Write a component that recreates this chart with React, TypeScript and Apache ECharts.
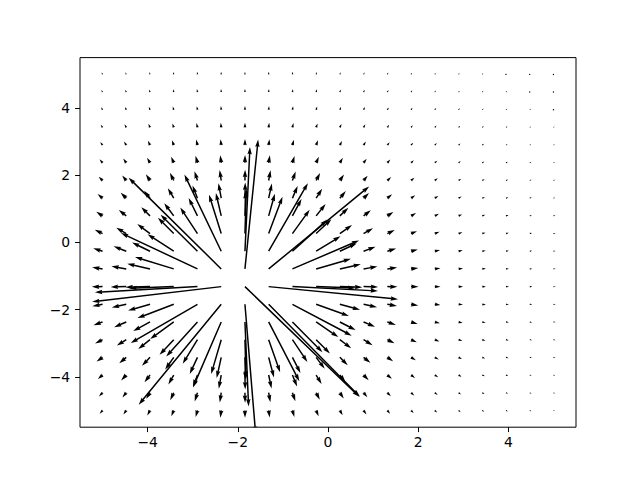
import React, { useEffect, useRef } from 'react';
import * as echarts from 'echarts';

// grid positions of the arrow tails
const XS = [-5, -4.474, -3.947, -3.421, -2.895, -2.368, -1.842, -1.316, -0.789, -0.263, 0.263, 0.789, 1.316, 1.842, 2.368, 2.895, 3.421, 3.947, 4.474, 5];
const YS = [-5, -4.474, -3.947, -3.421, -2.895, -2.368, -1.842, -1.316, -0.789, -0.263, 0.263, 0.789, 1.316, 1.842, 2.368, 2.895, 3.421, 3.947, 4.474, 5];

// vector components, one row per YS value, one column per XS value
const U = [
  [-0.0270, -0.0275, -0.0265, -0.0232, -0.0173, -0.0089, 0.0009, 0.0106, 0.0186, 0.0240, 0.0268, 0.0275, 0.0268, 0.0253, 0.0234, 0.0214, 0.0194, 0.0175, 0.0158, 0.0143],
  [-0.0348, -0.0368, -0.0370, -0.0339, -0.0263, -0.0139, 0.0014, 0.0165, 0.0281, 0.0348, 0.0372, 0.0366, 0.0343, 0.0312, 0.0281, 0.0250, 0.0222, 0.0197, 0.0176, 0.0157],
  [-0.0448, -0.0499, -0.0531, -0.0518, -0.0426, -0.0235, 0.0025, 0.0277, 0.0450, 0.0525, 0.0527, 0.0490, 0.0438, 0.0384, 0.0334, 0.0289, 0.0252, 0.0220, 0.0193, 0.0170],
  [-0.0573, -0.0676, -0.0775, -0.0824, -0.0742, -0.0441, 0.0048, 0.0513, 0.0772, 0.0822, 0.0759, 0.0657, 0.0555, 0.0465, 0.0391, 0.0331, 0.0282, 0.0242, 0.0210, 0.0183],
  [-0.0717, -0.0904, -0.1134, -0.1363, -0.1422, -0.0967, 0.0110, 0.1103, 0.1438, 0.1326, 0.1090, 0.0867, 0.0688, 0.0552, 0.0449, 0.0370, 0.0310, 0.0262, 0.0224, 0.0194],
  [-0.0864, -0.1163, -0.1613, -0.2268, -0.3002, -0.2719, 0.0352, 0.2953, 0.2889, 0.2133, 0.1516, 0.1099, 0.0821, 0.0633, 0.0500, 0.0404, 0.0333, 0.0278, 0.0236, 0.0203],
  [-0.0982, -0.1390, -0.2106, -0.3483, -0.6415, -0.7934, 0.1027, 0.8778, 0.5701, 0.3154, 0.1940, 0.1300, 0.0927, 0.0693, 0.0537, 0.0427, 0.0348, 0.0289, 0.0244, 0.0208],
  [-0.1033, -0.1497, -0.2361, -0.4258, -0.9856, -1.2414, 1.1000, 1.2441, 0.8220, 0.3771, 0.2155, 0.1393, 0.0973, 0.0718, 0.0551, 0.0437, 0.0354, 0.0294, 0.0247, 0.0211],
  [-0.0999, -0.1426, -0.2189, -0.3725, -0.7351, -0.8903, 0.1267, 0.9663, 0.6413, 0.3348, 0.2012, 0.1331, 0.0942, 0.0701, 0.0542, 0.0431, 0.0350, 0.0291, 0.0245, 0.0209],
  [-0.0893, -0.1216, -0.1722, -0.2511, -0.3543, -0.3536, 0.0483, 0.3770, 0.3360, 0.2342, 0.1612, 0.1147, 0.0847, 0.0647, 0.0509, 0.0410, 0.0337, 0.0281, 0.0238, 0.0204],
  [-0.0749, -0.0958, -0.1227, -0.1520, -0.1654, -0.1175, 0.0136, 0.1331, 0.1658, 0.1470, 0.1174, 0.0915, 0.0717, 0.0570, 0.0460, 0.0378, 0.0315, 0.0266, 0.0227, 0.0196],
  [-0.0602, -0.0720, -0.0840, -0.0915, -0.0846, -0.0513, 0.0056, 0.0596, 0.0875, 0.0909, 0.0820, 0.0698, 0.0582, 0.0484, 0.0404, 0.0339, 0.0288, 0.0246, 0.0213, 0.0185],
  [-0.0472, -0.0532, -0.0574, -0.0569, -0.0475, -0.0266, 0.0028, 0.0312, 0.0501, 0.0575, 0.0569, 0.0522, 0.0461, 0.0400, 0.0345, 0.0298, 0.0258, 0.0225, 0.0197, 0.0173],
  [-0.0367, -0.0393, -0.0399, -0.0370, -0.0290, -0.0155, 0.0016, 0.0183, 0.0309, 0.0379, 0.0400, 0.0389, 0.0361, 0.0327, 0.0291, 0.0258, 0.0228, 0.0202, 0.0179, 0.0160],
  [-0.0285, -0.0292, -0.0284, -0.0251, -0.0188, -0.0098, 0.0010, 0.0116, 0.0202, 0.0259, 0.0287, 0.0292, 0.0282, 0.0265, 0.0243, 0.0221, 0.0200, 0.0180, 0.0162, 0.0146],
  [-0.0222, -0.0221, -0.0206, -0.0176, -0.0129, -0.0065, 0.0007, 0.0078, 0.0139, 0.0183, 0.0210, 0.0222, 0.0222, 0.0214, 0.0202, 0.0188, 0.0173, 0.0159, 0.0145, 0.0132],
  [-0.0175, -0.0169, -0.0154, -0.0128, -0.0092, -0.0046, 0.0005, 0.0055, 0.0099, 0.0134, 0.0157, 0.0171, 0.0176, 0.0174, 0.0168, 0.0159, 0.0150, 0.0139, 0.0129, 0.0119],
  [-0.0139, -0.0132, -0.0117, -0.0096, -0.0067, -0.0033, 0.0003, 0.0040, 0.0073, 0.0100, 0.0120, 0.0133, 0.0140, 0.0142, 0.0140, 0.0135, 0.0129, 0.0122, 0.0115, 0.0107],
  [-0.0112, -0.0104, -0.0091, -0.0073, -0.0051, -0.0025, 0.0003, 0.0030, 0.0055, 0.0077, 0.0094, 0.0106, 0.0113, 0.0116, 0.0117, 0.0115, 0.0111, 0.0107, 0.0101, 0.0096],
  [-0.0091, -0.0083, -0.0072, -0.0057, -0.0039, -0.0019, 0.0002, 0.0023, 0.0043, 0.0060, 0.0074, 0.0085, 0.0092, 0.0096, 0.0098, 0.0098, 0.0096, 0.0093, 0.0090, 0.0085],
];
const V = [
  [-0.0325, -0.0398, -0.0481, -0.0567, -0.0644, -0.0698, -0.0715, -0.0690, -0.0631, -0.0551, -0.0465, -0.0384, -0.0313, -0.0254, -0.0205, -0.0167, -0.0136, -0.0112, -0.0093, -0.0078],
  [-0.0359, -0.0458, -0.0579, -0.0712, -0.0841, -0.0937, -0.0968, -0.0923, -0.0820, -0.0687, -0.0555, -0.0439, -0.0344, -0.0269, -0.0212, -0.0168, -0.0134, -0.0109, -0.0089, -0.0073],
  [-0.0387, -0.0519, -0.0694, -0.0908, -0.1138, -0.1322, -0.1384, -0.1295, -0.1097, -0.0867, -0.0658, -0.0492, -0.0367, -0.0276, -0.0211, -0.0163, -0.0127, -0.0101, -0.0081, -0.0066],
  [-0.0398, -0.0565, -0.0814, -0.1164, -0.1596, -0.1994, -0.2140, -0.1933, -0.1514, -0.1092, -0.0762, -0.0530, -0.0374, -0.0269, -0.0198, -0.0149, -0.0115, -0.0090, -0.0071, -0.0057],
  [-0.0377, -0.0572, -0.0901, -0.1455, -0.2313, -0.3308, -0.3736, -0.3142, -0.2135, -0.1333, -0.0828, -0.0529, -0.0351, -0.0242, -0.0172, -0.0126, -0.0095, -0.0073, -0.0058, -0.0046],
  [-0.0308, -0.0498, -0.0869, -0.1641, -0.3310, -0.6303, -0.8119, -0.5701, -0.2907, -0.1453, -0.0780, -0.0455, -0.0284, -0.0188, -0.0130, -0.0094, -0.0069, -0.0053, -0.0041, -0.0033],
  [-0.0184, -0.0313, -0.0596, -0.1324, -0.3715, -0.9660, -1.2457, -0.8900, -0.3014, -0.1128, -0.0525, -0.0282, -0.0168, -0.0108, -0.0073, -0.0052, -0.0038, -0.0029, -0.0022, -0.0018],
  [-0.0019, -0.0032, -0.0064, -0.0156, -0.0549, -0.1454, -1.0600, -0.1214, -0.0418, -0.0130, -0.0056, -0.0029, -0.0017, -0.0011, -0.0007, -0.0005, -0.0004, -0.0003, -0.0002, -0.0002],
  [0.0151, 0.0260, 0.0501, 0.1146, 0.3445, 0.8773, 1.2437, 0.7929, 0.2743, 0.0969, 0.0440, 0.0234, 0.0138, 0.0088, 0.0060, 0.0042, 0.0031, 0.0023, 0.0018, 0.0014],
  [0.0286, 0.0469, 0.0835, 0.1635, 0.3514, 0.7376, 1.0026, 0.6548, 0.3043, 0.1435, 0.0747, 0.0427, 0.0263, 0.0173, 0.0119, 0.0085, 0.0063, 0.0048, 0.0037, 0.0030],
  [0.0367, 0.0564, 0.0908, 0.1512, 0.2507, 0.3744, 0.4304, 0.3532, 0.2294, 0.1376, 0.0830, 0.0520, 0.0341, 0.0233, 0.0165, 0.0120, 0.0090, 0.0069, 0.0054, 0.0043],
  [0.0397, 0.0571, 0.0837, 0.1225, 0.1724, 0.2200, 0.2381, 0.2127, 0.1628, 0.1144, 0.0780, 0.0534, 0.0372, 0.0266, 0.0194, 0.0145, 0.0111, 0.0087, 0.0069, 0.0055],
  [0.0391, 0.0530, 0.0719, 0.0957, 0.1218, 0.1432, 0.1506, 0.1401, 0.1172, 0.0911, 0.0681, 0.0502, 0.0370, 0.0276, 0.0209, 0.0160, 0.0125, 0.0099, 0.0080, 0.0065],
  [0.0366, 0.0472, 0.0602, 0.0749, 0.0895, 0.1003, 0.1039, 0.0988, 0.0870, 0.0722, 0.0576, 0.0450, 0.0349, 0.0271, 0.0212, 0.0167, 0.0133, 0.0107, 0.0087, 0.0072],
  [0.0333, 0.0411, 0.0500, 0.0594, 0.0680, 0.0740, 0.0760, 0.0732, 0.0666, 0.0577, 0.0483, 0.0395, 0.0320, 0.0257, 0.0207, 0.0168, 0.0136, 0.0112, 0.0092, 0.0077],
  [0.0297, 0.0355, 0.0417, 0.0479, 0.0532, 0.0568, 0.0579, 0.0563, 0.0523, 0.0468, 0.0406, 0.0344, 0.0288, 0.0239, 0.0197, 0.0163, 0.0135, 0.0113, 0.0095, 0.0080],
  [0.0264, 0.0306, 0.0350, 0.0392, 0.0426, 0.0449, 0.0456, 0.0446, 0.0421, 0.0385, 0.0342, 0.0298, 0.0257, 0.0218, 0.0185, 0.0156, 0.0132, 0.0112, 0.0095, 0.0081],
  [0.0233, 0.0265, 0.0297, 0.0325, 0.0349, 0.0364, 0.0369, 0.0362, 0.0345, 0.0321, 0.0291, 0.0259, 0.0228, 0.0198, 0.0171, 0.0147, 0.0127, 0.0109, 0.0094, 0.0081],
  [0.0206, 0.0231, 0.0253, 0.0274, 0.0291, 0.0301, 0.0304, 0.0300, 0.0288, 0.0271, 0.0249, 0.0226, 0.0202, 0.0179, 0.0157, 0.0138, 0.0120, 0.0105, 0.0091, 0.0080],
  [0.0183, 0.0202, 0.0219, 0.0234, 0.0245, 0.0253, 0.0255, 0.0252, 0.0244, 0.0231, 0.0216, 0.0198, 0.0180, 0.0162, 0.0144, 0.0128, 0.0113, 0.0100, 0.0088, 0.0078],
];

const X_TICKS = [-4, -2, 0, 2, 4];
const Y_TICKS = [-4, -2, 0, 2, 4];

// drawing style (matplotlib quiver defaults)
const PX_PER_UNIT = 104; // arrow length in pixels per unit of vector magnitude
const SHAFT = 1.488; // shaft width in pixels
const HEAD_W = 3, HEAD_L = 5, HEAD_AXIS_L = 4.5;

const fmt = (v: number) => (v < 0 ? '\u2212' + Math.abs(v) : String(v));

function arrowPolygon(p: number[], u: number, v: number): number[][] {
  const L = (Math.hypot(u, v) * PX_PER_UNIT) / SHAFT; // in shaft-width units
  let ax: number[];
  let ay: number[];
  if (L < 1) {
    ax = [];
    ay = [];
    for (let i = 0; i < 8; i++) {
      const th = (i * Math.PI) / 3;
      ax.push(Math.cos(th) * 0.5);
      ay.push(Math.sin(th) * 0.5);
    }
  } else if (L < HEAD_L) {
    const s = L / HEAD_L;
    ax = [0, HEAD_L - HEAD_AXIS_L, 0, HEAD_L, 0, HEAD_L - HEAD_AXIS_L, 0, 0].map((a) => a * s);
    ay = [0.5, 0.5, HEAD_W / 2, 0, -HEAD_W / 2, -0.5, -0.5, 0.5].map((a) => a * s);
  } else {
    ax = [0, L - HEAD_AXIS_L, L - HEAD_L, L, L - HEAD_L, L - HEAD_AXIS_L, 0, 0];
    ay = [0.5, 0.5, HEAD_W / 2, 0, -HEAD_W / 2, -0.5, -0.5, 0.5];
  }
  const ang = Math.atan2(v, u);
  const c = Math.cos(ang);
  const s = Math.sin(ang);
  return ax.map((a, i) => [
    p[0] + SHAFT * (a * c - ay[i] * s),
    p[1] - SHAFT * (a * s + ay[i] * c),
  ]);
}

export default function App() {
  const ref = useRef<HTMLDivElement>(null);
  useEffect(() => {
    const chart = echarts.init(ref.current!, null, { renderer: 'svg' });
    const data: number[][] = [];
    YS.forEach((y, j) => {
      XS.forEach((x, k) => {
        data.push([x, y, U[j][k], V[j][k]]);
      });
    });
    const axisText = { color: '#000', fontFamily: 'DejaVu Sans', fontSize: 13.9 };
    chart.setOption({
      animation: false,
      backgroundColor: '#fff',
      grid: {
        left: 80,
        right: 64,
        top: 57.6,
        bottom: 52.8,
        show: true,
        borderColor: '#000',
        borderWidth: 1,
        backgroundColor: 'transparent',
      },
      xAxis: {
        type: 'value',
        min: -5.5,
        max: 5.5,
        axisLine: { show: false, onZero: false },
        splitLine: { show: false },
        axisTick: { show: true, length: 4.9, lineStyle: { color: '#000', width: 1 }, customValues: X_TICKS },
        axisLabel: { ...axisText, margin: 8, customValues: X_TICKS, formatter: fmt },
      },
      yAxis: {
        type: 'value',
        min: -5.5,
        max: 5.5,
        axisLine: { show: false, onZero: false },
        splitLine: { show: false },
        axisTick: { show: true, length: 4.9, lineStyle: { color: '#000', width: 1 }, customValues: Y_TICKS },
        axisLabel: { ...axisText, margin: 9.8, customValues: Y_TICKS, formatter: fmt },
      },
      series: [
        {
          type: 'custom',
          coordinateSystem: 'cartesian2d',
          clip: true,
          encode: { x: 0, y: 1 },
          data,
          renderItem: (params: any, api: any) => {
            const x = api.value(0);
            const y = api.value(1);
            const u = api.value(2);
            const v = api.value(3);
            const p = api.coord([x, y]);
            return {
              type: 'polygon',
              shape: { points: arrowPolygon(p, u, v) },
              style: { fill: '#000', stroke: null },
            };
          },
        },
      ],
    });
    return () => chart.dispose();
  }, []);
  return (
    <div
      ref={ref}
      style={{ position: 'fixed', left: 0, top: 0, width: 640, height: 480, background: '#fff' }}
    />
  );
}
